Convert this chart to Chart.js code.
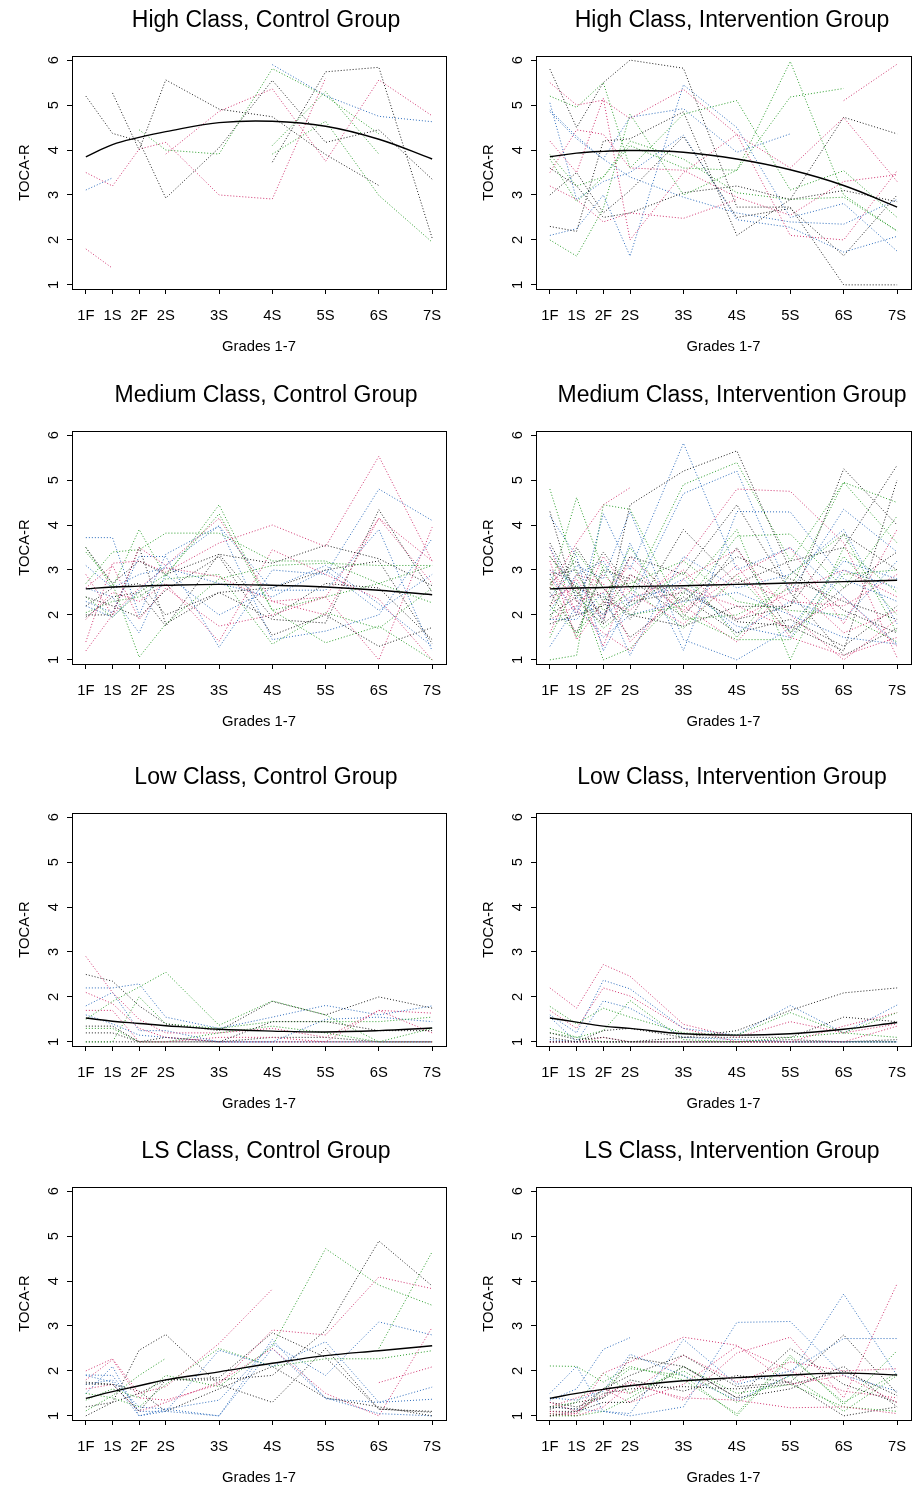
<!DOCTYPE html>
<html>
<head>
<meta charset="utf-8">
<title>TOCA-R by class and group</title>
<script src="https://cdn.jsdelivr.net/npm/chart.js@4.4.1/dist/chart.umd.min.js"></script>
<style>
  html, body { margin: 0; padding: 0; background: #fff; }
  body { width: 914px; height: 1489px; position: relative; overflow: hidden; }
  canvas { position: absolute; }
</style>
</head>
<body>
<script>
// grade labels and where they sit on the numeric x axis
const gradeLabels = ["1F", "1S", "2F", "2S", "3S", "4S", "5S", "6S", "7S"];
const gradePositions = [1, 1.5, 2, 2.5, 3.5, 4.5, 5.5, 6.5, 7.5];
const yTicks = [1, 2, 3, 4, 5, 6];

const panelTitles = [
    "High Class, Control Group", "High Class, Intervention Group",
    "Medium Class, Control Group", "Medium Class, Intervention Group",
    "Low Class, Control Group", "Low Class, Intervention Group",
    "LS Class, Control Group", "LS Class, Intervention Group"
];

/* =========================
   individual trajectories (one row = one child)
========================= */
const highControl = [
    [5.2, 4.37, 4.2, 2.93, 4.05, 5.55, 4.17, 4.45, 3.35],
    [3.5, 3.2, 4.02, 4.17, 3.0, 2.91, 5.6, null, null],
    [null, null, 4.45, 4.0, 3.91, 5.81, 5.2, 4.36, null],
    [3.11, 3.38, null, null, null, null, null, null, null],
    [null, 5.27, 4.0, 5.56, 4.91, 4.74, 3.9, 3.21, null],
    [1.8, 1.37, null, null, null, null, null, null, null],
    [null, null, null, null, null, 3.91, 4.64, 2.99, 1.95],
    [null, null, null, null, null, 5.9, 5.21, 4.75, 4.63],
    [null, null, null, null, null, 3.73, 5.74, 5.84, 2.04],
    [null, null, null, 3.91, 4.86, 5.36, 3.75, 5.56, 4.76],
    [null, null, null, null, null, 4.1, 5.3, 3.91, null]
];
const highControlMean = [3.85, 4.12, 4.28, 4.41, 4.61, 4.64, 4.53, 4.24, 3.80];

const highIntervention = [
    [5.8, 4.5, 5.5, 6.0, 5.82, 2.73, 2.73, 1.0, 1.0],
    [5.5, 5.0, 5.11, 4.7, 5.35, 4.35, 3.6, 4.72, 3.3],
    [5.2, 4.95, 5.5, 3.6, 4.8, 5.1, 3.11, 3.54, 2.5],
    [4.89, 4.3, 3.8, 4.73, 4.92, 3.95, 4.36, null, null],
    [2.3, 2.19, 4.2, 4.25, 4.85, 2.1, 2.9, 4.73, 4.36],
    [4.2, 3.5, 5.15, 2.0, 3.5, 4.35, 2.1, 2.0, 3.54],
    [2.0, 1.64, 2.7, 4.8, 3.0, 3.55, 5.97, 3.0, 2.2],
    [2.1, 2.25, 3.0, 1.64, 5.45, 4.5, 2.5, 2.81, 1.75],
    [3.0, 3.5, 2.6, 3.1, 4.3, 2.5, 2.7, 1.65, 3.0],
    [3.2, 2.9, 2.4, 2.6, 2.48, 2.9, null, 5.1, 5.91],
    [3.8, 2.85, 3.4, 4.1, 3.6, 3.55, 5.18, 5.37, null],
    [5.05, 2.9, 3.3, 3.5, 4.33, 2.45, 2.28, 1.73, 2.08],
    [3.6, 3.2, 2.5, 2.6, 3.05, 3.2, 2.9, 3.1, 2.85],
    [3.5, 4.45, 4.35, 3.6, 3.55, 2.95, 2.55, 3.3, 3.45],
    [3.9, 3.2, 3.4, 4.2, 3.8, 3.05, 2.9, 2.95, 2.2],
    [4.85, 4.25, 3.8, 3.4, 2.95, 2.6, 2.4, 2.35, 2.9]
];
const highInterventionMean = [3.85, 3.93, 3.97, 3.99, 3.95, 3.80, 3.56, 3.21, 2.73];

const mediumControl = [
    [3.5, 2.7, 3.2, 2.9, 3.35, 3.15, 3.55, 3.25, 2.65],
    [1.2, 2.0, 3.5, 3.1, 4.15, 2.3, 2.0, 4.15, 3.2],
    [3.4, 2.7, 1.06, 1.8, 2.8, 3.1, 3.15, 3.1, 3.1],
    [3.72, 3.72, 2.0, 3.35, 3.98, 2.55, 2.55, 3.9, 1.2],
    [2.0, 2.0, 3.5, 1.8, 2.5, 1.9, 1.82, 4.34, 2.5],
    [1.4, 3.15, 3.2, 2.95, 3.6, 4.0, 3.52, 5.53, 3.2],
    [2.7, 3.4, 3.45, 3.82, 3.82, 3.2, 3.2, 2.7, 2.27],
    [2.3, 2.05, 3.3, 3.3, 1.28, 3.0, 2.9, 4.8, 4.1],
    [2.4, 2.2, 1.95, 2.55, 3.3, 1.55, 2.0, 1.3, 1.72],
    [2.6, 3.1, 1.9, 2.6, 1.75, 2.0, 2.4, 1.0, 3.95],
    [3.5, 2.6, 3.9, 2.85, 4.45, 2.1, 1.38, 1.75, 1.0],
    [2.2, 1.95, 2.55, 3.1, 3.98, 1.45, 1.64, 2.0, 3.7],
    [2.2, 2.6, 2.7, 2.0, 2.5, 2.6, 3.0, 3.2, 1.36],
    [1.9, 2.5, 2.3, 2.7, 1.41, 3.45, 2.9, 2.35, 1.0],
    [2.4, 1.95, 2.5, 2.9, 4.25, 2.1, 2.4, 2.7, 3.1],
    [2.6, 2.4, 1.6, 2.9, 2.0, 2.6, 3.1, 2.25, 1.3],
    [1.95, 2.4, 2.5, 1.75, 3.35, 1.95, 2.7, 2.6, 1.45],
    [2.9, 2.0, 2.6, 3.05, 2.85, 2.3, 2.4, 4.15, 2.7],
    [2.05, 2.3, 2.4, 2.8, 2.9, 1.35, 2.05, 1.7, 2.6],
    [3.1, 2.6, 2.9, 3.05, 2.7, 2.4, 3.0, 2.1, 2.9]
];
const mediumControlMean = [2.58, 2.62, 2.64, 2.66, 2.68, 2.66, 2.62, 2.55, 2.45];

const mediumIntervention = [
    [4.3, 2.3, 1.8, 4.45, 5.2, 5.65, 3.0, 2.1, 1.6],
    [2.6, 3.6, 4.45, 4.83, null, null, null, null, null],
    [4.8, 2.9, 2.1, 2.5, 4.9, 5.39, 3.2, 4.95, 4.5],
    [2.9, 2.0, 4.25, 3.0, 5.82, 3.0, 3.5, 2.4, 1.35],
    [3.3, 2.6, 2.4, 2.0, 1.75, 2.19, 2.19, 5.25, 4.0],
    [3.2, 1.45, 2.3, 2.1, 3.2, 4.8, 4.75, 3.6, 1.05],
    [1.0, 1.1, 4.45, 4.35, 2.0, 1.45, 1.45, 2.9, 3.0],
    [4.2, 3.3, 1.2, 2.3, 4.7, 5.2, 2.5, 4.35, 3.4],
    [2.2, 3.5, 2.6, 1.9, 3.9, 2.7, 3.2, 3.5, 5.33],
    [2.8, 2.1, 1.6, 1.2, 2.8, 3.45, 2.0, 1.0, 1.9],
    [2.6, 4.61, 3.0, 2.0, 2.2, 3.75, 3.8, 2.6, 4.2],
    [3.5, 2.4, 1.9, 3.6, 1.21, 4.3, 4.29, 2.8, 2.3],
    [2.0, 2.4, 3.4, 2.6, 2.6, 1.85, 1.75, 1.2, 5.0],
    [3.0, 2.3, 2.5, 3.1, 2.05, 2.9, 3.5, 1.8, 3.9],
    [1.5, 2.7, 1.0, 1.25, 2.5, 3.9, 1.0, 3.5, 2.5],
    [2.4, 3.1, 2.8, 4.3, 1.45, 1.0, 1.7, 3.2, 2.8],
    [1.8, 2.0, 2.2, 3.3, 2.9, 4.45, 2.5, 1.1, 1.7],
    [1.6, 2.9, 2.7, 1.4, 2.6, 2.2, 1.7, 2.4, 1.3],
    [2.2, 1.6, 2.3, 3.5, 1.9, 2.0, 2.6, 4.95, 3.6],
    [1.3, 2.2, 1.5, 2.0, 2.3, 2.5, 2.0, 1.5, 1.35],
    [2.9, 3.0, 1.8, 2.3, 2.5, 1.9, 2.2, 3.8, 3.0],
    [3.5, 2.0, 3.3, 2.5, 1.8, 2.8, 2.3, 2.2, 2.9],
    [3.3, 2.5, 1.7, 2.2, 2.95, 1.5, 2.9, 3.8, 1.6],
    [1.9, 1.9, 2.5, 1.1, 3.3, 2.6, 2.9, 3.9, 1.8],
    [2.5, 1.6, 3.0, 2.8, 1.95, 3.5, 1.6, 2.6, 3.4],
    [2.2, 2.8, 1.9, 3.3, 2.2, 1.4, 2.7, 1.6, 2.1],
    [1.9, 3.4, 2.6, 2.7, 3.2, 2.3, 2.1, 2.0, 1.4],
    [3.0, 2.7, 2.0, 2.4, 2.6, 1.75, 1.5, 3.0, 2.6],
    [2.7, 3.2, 2.3, 1.5, 2.4, 1.6, 1.9, 1.3, 2.2],
    [2.4, 2.6, 1.3, 2.9, 2.1, 3.1, 1.5, 1.1, 1.5],
    [2.8, 1.5, 3.1, 2.6, 1.7, 2.9, 1.6, 3.3, 2.0],
    [2.1, 2.9, 3.2, 2.2, 2.8, 1.6, 2.3, 1.9, 3.2],
    [3.6, 2.5, 2.0, 2.9, 2.3, 3.3, 2.8, 2.3, 1.9],
    [1.9, 2.2, 2.9, 2.3, 3.0, 1.9, 2.5, 3.0, 2.4]
];
const mediumInterventionMean = [2.58, 2.60, 2.61, 2.63, 2.65, 2.68, 2.71, 2.74, 2.77];

const lowControl = [
    [2.5, 2.35, 1.8, 1.4, 1.25, 1.9, 1.6, 2.0, 1.75],
    [2.9, 2.1, 1.5, 1.2, 1.2, 1.3, 1.1, 1.7, 1.64],
    [1.5, 1.9, 2.22, 2.55, 1.37, 1.91, 1.6, 1.0, 1.3],
    [2.2, 2.2, 2.29, 1.55, 1.3, 1.55, 1.81, 1.6, 1.8],
    [1.35, 1.35, 1.0, 1.0, 1.0, 1.45, 1.45, 1.25, 1.25],
    [2.1, 1.85, 1.3, 1.1, 1.0, 1.0, 1.0, 1.7, 1.2],
    [1.0, 1.0, 2.0, 1.4, 1.3, 1.45, 1.45, 1.45, 1.55],
    [1.8, 2.1, 1.25, 1.25, 1.0, 1.0, 1.5, 1.55, 1.45],
    [1.2, 1.2, 1.0, 1.1, 1.0, 1.0, 1.0, 1.0, 1.0],
    [1.7, 1.7, 1.0, 1.0, 1.1, 1.1, 1.0, 1.0, 1.0],
    [1.3, 1.3, 1.0, 1.0, 1.2, 1.35, 1.2, 1.0, 1.0],
    [1.6, 1.4, 1.15, 1.1, 1.0, 1.0, 1.0, 1.0, 1.0],
    [1.0, 1.0, 1.0, 1.0, 1.0, 1.1, 1.1, 1.0, 1.0]
];
const lowControlMean = [1.53, 1.46, 1.41, 1.36, 1.28, 1.24, 1.22, 1.25, 1.31];

const lowIntervention = [
    [1.1, 1.0, 1.25, 1.3, 1.1, 1.25, 1.7, 2.09, 2.2],
    [2.2, 1.75, 2.72, 2.46, 1.39, 1.1, 1.45, 1.2, 1.4],
    [1.79, 1.4, 1.75, 1.55, 1.2, 1.15, 1.65, 1.2, 1.65],
    [1.6, 1.2, 2.37, 2.18, 1.3, 1.15, 1.81, 1.2, 1.82],
    [1.0, 1.0, 1.0, 1.0, 1.1, 1.1, 1.1, 1.55, 1.45],
    [1.7, 1.3, 2.2, 2.02, 1.3, 1.0, 1.0, 1.35, 1.65],
    [1.3, 1.1, 1.25, 1.92, 1.05, 1.0, 1.1, 1.2, 1.1],
    [1.55, 1.0, 1.91, 1.75, 1.1, 1.05, 1.0, 1.0, 1.0],
    [1.2, 1.05, 1.1, 1.0, 1.0, 1.0, 1.05, 1.0, 1.05],
    [1.0, 1.0, 1.0, 1.0, 1.0, 1.0, 1.0, 1.0, 1.35],
    [1.2, 1.1, 1.0, 1.0, 1.0, 1.0, 1.0, 1.0, 1.0],
    [1.05, 1.0, 1.0, 1.0, 1.0, 1.0, 1.0, 1.0, 1.0],
    [1.0, 1.0, 1.0, 1.0, 1.0, 1.0, 1.0, 1.0, 1.0],
    [1.0, 1.0, 1.1, 1.0, 1.0, 1.0, 1.0, 1.0, 1.0]
];
const lowInterventionMean = [1.53, 1.44, 1.35, 1.30, 1.18, 1.15, 1.18, 1.28, 1.43];

const lsControl = [
    [1.71, 1.7, 1.1, 1.8, 1.8, 1.9, 2.9, 4.89, 3.89],
    [2.0, 2.27, 1.5, 1.65, 2.61, 3.82, null, null, null],
    [1.11, 1.45, 1.9, 2.28, null, null, null, null, null],
    [1.91, 1.9, 1.1, 1.1, 2.46, 2.1, 2.65, 1.3, 1.64],
    [1.0, 1.3, 2.46, 2.81, 1.7, 1.3, 2.5, 1.15, 1.08],
    [1.8, 2.25, 1.4, 1.35, 1.7, 2.91, 2.8, 4.09, 3.83],
    [1.35, 1.6, 1.4, 1.9, 1.65, 2.55, 4.72, 3.91, 3.46],
    [1.5, 2.1, 1.0, 1.1, 1.0, 2.7, 1.38, 1.3, 1.37],
    [1.75, 1.7, 1.55, 1.1, 1.6, 2.1, 1.4, 1.2, 1.0],
    [1.6, 1.7, 1.1, 1.3, 1.75, 2.5, 1.5, 1.0, 2.97],
    [1.5, 1.4, 1.2, 1.7, 2.5, 2.1, 2.27, 2.27, 2.45],
    [1.9, 1.75, 1.0, 1.15, 1.35, 2.6, 1.9, 3.09, 2.8],
    [1.2, 1.3, 1.5, 1.8, 1.85, 2.85, 2.3, 1.15, 1.1],
    [null, null, null, null, null, null, null, 1.74, 2.09],
    [null, null, null, null, null, null, null, 2.5, 4.65],
    [1.7, 1.8, 1.2, 1.15, 1.0, 2.5, 1.4, 1.05, 1.0]
];
const lsControlMean = [1.39, 1.54, 1.67, 1.80, 1.98, 2.17, 2.34, 2.45, 2.56];

const lsIntervention = [
    [1.2, 1.15, 1.6, 1.9, 2.35, 1.65, 1.75, 2.8, 1.5],
    [1.1, 1.05, 1.95, 2.2, 2.75, 2.57, 1.7, 1.9, 1.3],
    [2.11, 2.1, 1.75, 2.1, 1.8, 1.05, 2.35, 1.25, 2.45],
    [1.5, 2.1, 1.1, 1.0, 1.2, 3.08, 3.1, 1.9, 1.55],
    [1.0, 1.1, 1.3, 1.3, 2.1, 1.4, 1.6, 2.1, 1.2],
    [1.3, 1.1, 1.45, 1.75, 1.35, 2.4, 2.75, 1.4, 3.94],
    [1.0, 1.0, 1.6, 2.05, 1.9, 1.0, 2.3, 1.3, 1.95],
    [1.35, 1.6, 2.48, 2.74, null, null, null, null, null],
    [1.1, 1.1, 1.5, 1.6, 1.65, 1.6, 1.7, 2.0, 1.45],
    [1.05, 1.0, 1.2, 1.7, 1.4, 1.35, 1.18, 1.2, 1.05],
    [1.2, 1.3, 1.95, 1.5, 2.0, 1.3, 1.9, 1.1, 1.9],
    [1.4, 1.35, 1.55, 2.37, 1.9, 1.35, 1.9, 3.71, 1.9],
    [1.15, 1.3, 1.4, 2.3, 2.1, 1.4, 2.5, 1.7, 1.3],
    [1.0, 1.05, 1.6, 1.5, 2.35, 1.75, 2.2, 2.0, 2.05],
    [1.05, 1.0, 1.1, 1.4, 2.1, 1.5, 1.7, 1.2, 1.1],
    [1.2, 1.15, 1.1, 1.05, 2.7, 1.7, 2.0, 2.72, 2.72],
    [1.3, 1.2, 1.4, 1.8, 1.55, 1.9, 1.75, 1.0, 1.2],
    [1.2, 1.4, 1.6, 1.3, 1.7, 2.55, 2.0, 1.55, 1.4]
];
const lsInterventionMean = [1.39, 1.50, 1.59, 1.67, 1.78, 1.85, 1.91, 1.95, 1.91];

const panelSubjects = [highControl, highIntervention, mediumControl, mediumIntervention,
    lowControl, lowIntervention, lsControl, lsIntervention];
const panelMeans = [highControlMean, highInterventionMean, mediumControlMean, mediumInterventionMean,
    lowControlMean, lowInterventionMean, lsControlMean, lsInterventionMean];

/* =========================
   layout
========================= */
const FONT = '"Liberation Sans", Arial, Helvetica, sans-serif';
const palette = ["#1c1c1c", "#d0336f", "#2a9d2a", "#2d6cbc"];

const canvasW = 457;
const canvasH = 358;
const boxTop = 56;
const boxHeight = 233;
const colLefts = [0, 457];
const rowTops = [0, 375, 757, 1131];
const yAxisWidth = [72, 79];
const rightPad = [11, 3];
const titleShift = [7, 8.5];

// titles, tick labels and the box, drawn like R's base graphics
const panelText = {
    id: "panelText",
    afterDraw(chart, args, opts) {
        const ctx = chart.ctx;
        const a = chart.chartArea;
        const xs = chart.scales.x;
        const ys = chart.scales.y;
        const cx = (a.left + a.right) / 2;

        ctx.save();

        ctx.strokeStyle = "#000";
        ctx.lineWidth = 1;
        ctx.strokeRect(Math.round(a.left) + 0.5, Math.round(a.top) + 0.5,
            Math.round(a.right - a.left), Math.round(a.bottom - a.top));

        ctx.fillStyle = "#000";
        ctx.textBaseline = "alphabetic";
        ctx.textAlign = "center";

        ctx.font = "23px " + FONT;
        ctx.fillText(opts.title, cx + opts.shift, a.top - 29);

        ctx.font = "14.8px " + FONT;
        gradeLabels.forEach((lab, i) => {
            ctx.fillText(lab, xs.getPixelForValue(gradePositions[i]), a.bottom + 31);
        });
        ctx.fillText("Grades 1-7", cx, a.bottom + 62);

        yTicks.forEach(v => {
            ctx.save();
            ctx.translate(a.left - 14.5, ys.getPixelForValue(v));
            ctx.rotate(-Math.PI / 2);
            ctx.fillText(String(v), 0, 0);
            ctx.restore();
        });

        ctx.save();
        ctx.translate(a.left - 43.5, (a.top + a.bottom) / 2);
        ctx.rotate(-Math.PI / 2);
        ctx.fillText("TOCA-R", 0, 0);
        ctx.restore();

        ctx.restore();
    }
};

function toPoints(values) {
    return values.map((v, j) => ({ x: gradePositions[j], y: v }));
}

panelTitles.forEach((title, p) => {

    const col = p % 2;
    const row = Math.floor(p / 2);

    const canvas = document.createElement("canvas");
    canvas.width = canvasW;
    canvas.height = canvasH;
    canvas.style.left = colLefts[col] + "px";
    canvas.style.top = rowTops[row] + "px";
    canvas.style.width = canvasW + "px";
    canvas.style.height = canvasH + "px";
    document.body.appendChild(canvas);

    // mean curve first so it is painted on top
    const datasets = [{
        data: toPoints(panelMeans[p]),
        borderColor: "#000",
        borderWidth: 1.4,
        pointRadius: 0,
        tension: 0.4,
        fill: false
    }];

    panelSubjects[p].forEach((child, i) => {
        datasets.push({
            data: toPoints(child),
            borderColor: palette[i % palette.length],
            borderWidth: 1,
            borderDash: [1, 2],
            pointRadius: 0,
            tension: 0,
            spanGaps: false,
            fill: false
        });
    });

    new Chart(canvas, {
        type: "line",
        data: { datasets: datasets },
        plugins: [panelText],
        options: {
            responsive: false,
            animation: false,
            events: [],
            devicePixelRatio: 1,
            layout: {
                padding: { left: 0, top: boxTop, right: rightPad[col], bottom: 0 }
            },
            scales: {
                x: {
                    type: "linear",
                    min: 0.74,
                    max: 7.76,
                    afterBuildTicks: s => { s.ticks = gradePositions.map(v => ({ value: v })); },
                    afterFit: s => { s.height = canvasH - boxTop - boxHeight; },
                    ticks: { display: false },
                    grid: { display: true, drawOnChartArea: false, drawTicks: true, tickLength: 5, tickColor: "#000", tickWidth: 1 },
                    border: { display: true, color: "#000", width: 1 }
                },
                y: {
                    type: "linear",
                    min: 0.908,
                    max: 6.092,
                    afterBuildTicks: s => { s.ticks = yTicks.map(v => ({ value: v })); },
                    afterFit: s => { s.width = yAxisWidth[col]; },
                    ticks: { display: false },
                    grid: { display: true, drawOnChartArea: false, drawTicks: true, tickLength: 5, tickColor: "#000", tickWidth: 1 },
                    border: { display: true, color: "#000", width: 1 }
                }
            },
            plugins: {
                legend: { display: false },
                tooltip: { enabled: false },
                panelText: { title: title, shift: titleShift[col] }
            }
        }
    });
});
</script>
</body>
</html>
